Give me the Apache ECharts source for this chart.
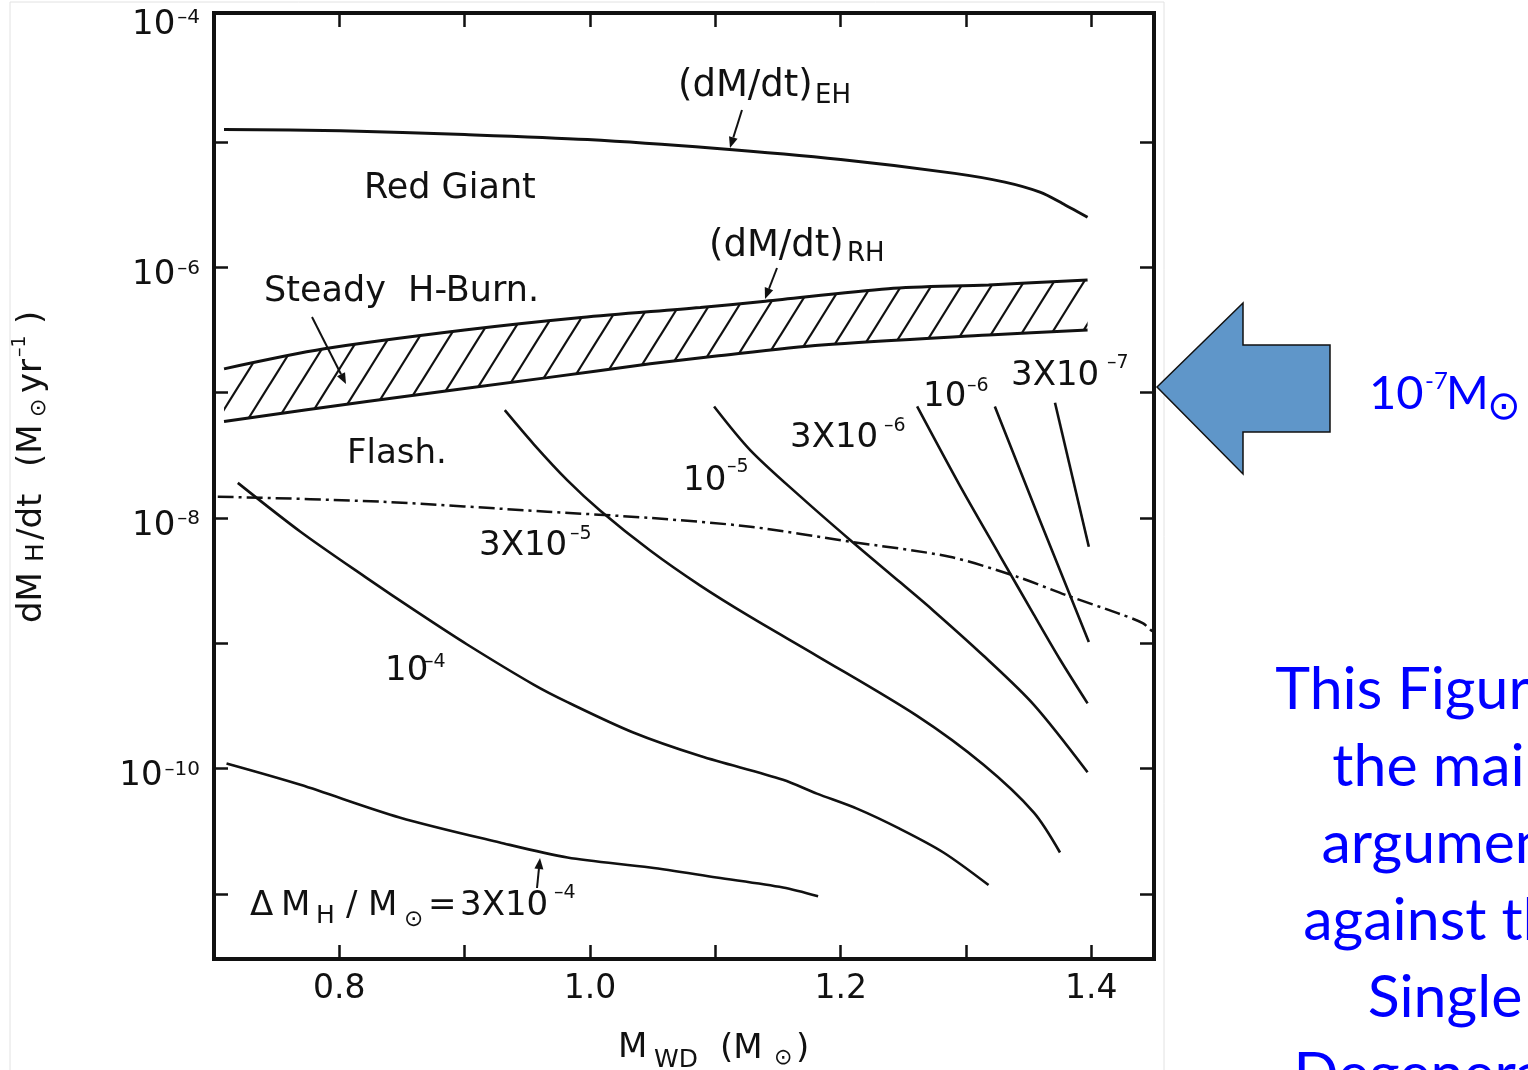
<!DOCTYPE html>
<html><head><meta charset="utf-8">
<script src="https://cdn.jsdelivr.net/npm/echarts@6/dist/echarts.min.js"></script>
<style>html,body{margin:0;padding:0;background:#fff}#c{width:1528px;height:1070px}</style>
</head><body><div id="c"></div>
<script>
// x: white-dwarf mass (Msun); y: log10 of accretion rate dM/dt (Msun/yr)
const xTicks = [0.8, 0.9, 1.0, 1.1, 1.2, 1.3, 1.4];
const xTickLabels = [0.8, 1.0, 1.2, 1.4];
const yTicks = [-11, -10, -9, -8, -7, -6, -5];
const yTickLabels = [-10, -8, -6, -4];

const ehX = [0.708, 0.801, 0.900, 0.998, 1.099, 1.200, 1.291, 1.331, 1.359, 1.377, 1.397];
const ehY = [-4.90, -4.91, -4.94, -4.98, -5.05, -5.14, -5.25, -5.32, -5.40, -5.49, -5.60];

const rhUpperX = [0.708, 0.788, 0.900, 0.993, 1.088, 1.140, 1.238, 1.318, 1.397];
const rhUpperY = [-6.81, -6.65, -6.50, -6.40, -6.32, -6.27, -6.17, -6.14, -6.10];
const rhLowerX = [0.708, 0.822, 0.966, 1.048, 1.099, 1.185, 1.318, 1.397];
const rhLowerY = [-7.23, -7.07, -6.88, -6.77, -6.71, -6.62, -6.54, -6.50];

const dashX = [0.703, 0.833, 0.966, 1.048, 1.128, 1.208, 1.287, 1.341, 1.381, 1.421, 1.441, 1.450];
const dashY = [-7.83, -7.87, -7.95, -8.00, -8.07, -8.19, -8.31, -8.47, -8.62, -8.76, -8.84, -8.92];

const f3e4X = [0.710, 0.769, 0.848, 0.928, 0.982, 1.048, 1.101, 1.154, 1.182];
const f3e4Y = [-9.96, -10.13, -10.39, -10.59, -10.71, -10.79, -10.87, -10.95, -11.02];

const f1e4X = [0.719, 0.769, 0.822, 0.862, 0.902, 0.955, 0.982, 1.034, 1.088, 1.154, 1.181, 1.213, 1.247, 1.282, 1.318];
const f1e4Y = [-7.72, -8.11, -8.48, -8.75, -9.01, -9.33, -9.47, -9.71, -9.90, -10.09, -10.20, -10.32, -10.48, -10.67, -10.93];

const f3e5X = [0.932, 0.955, 0.982, 1.008, 1.048, 1.088, 1.128, 1.181, 1.261, 1.314, 1.354, 1.375];
const f3e5Y = [-7.14, -7.41, -7.70, -7.94, -8.26, -8.54, -8.79, -9.10, -9.58, -9.97, -10.35, -10.67];

const f1e5X = [1.099, 1.128, 1.168, 1.208, 1.247, 1.274, 1.314, 1.354, 1.397];
const f1e5Y = [-7.11, -7.46, -7.83, -8.18, -8.51, -8.74, -9.10, -9.49, -10.03];

const f3e6X = [1.261, 1.295, 1.327, 1.354, 1.375, 1.397];
const f3e6Y = [-7.11, -7.74, -8.30, -8.77, -9.13, -9.48];

const f1e6X = [1.323, 1.359, 1.398];
const f1e6Y = [-7.11, -8.02, -8.99];

const f3e7X = [1.371, 1.398];
const f3e7Y = [-7.08, -8.23];

const INK = '#111';
const FONT = 'DejaVu Sans';

// hatch pattern
const hc = document.createElement('canvas');
hc.width = 30; hc.height = 48;
const hg = hc.getContext('2d');
hg.strokeStyle = INK; hg.lineWidth = 2.2;
for (const o of [-30, 0, 30]) {
  hg.beginPath(); hg.moveTo(o - 3, 52.8); hg.lineTo(o + 33, -4.8); hg.stroke();
}

function curve(xs, ys, extra) {
  return Object.assign({
    type: 'line', data: xs.map((x, i) => [x, ys[i]]), showSymbol: false, symbol: 'none',
    smooth: 0.3, silent: true, animation: false, z: 3,
    lineStyle: { color: INK, width: 2.6 }
  }, extra || {});
}

function T(x, y, text, size, opts) {
  return {
    type: 'text', x: x, y: y, silent: true, z: 20,
    style: Object.assign({
      text: text, fontSize: size, fontFamily: FONT, fill: INK,
      align: 'left', verticalAlign: 'middle', textAlign: 'left', textVerticalAlign: 'middle'
    }, opts || {})
  };
}
function TR(x, y, text, size, opts) { // rotated (reads bottom-to-top)
  const t = T(x, y, text, size, opts);
  t.rotation = Math.PI / 2;
  return t;
}
function arrow(x1, y1, x2, y2) {
  const head = 11, w = 4.5;
  const dx = x2 - x1, dy = y2 - y1, L = Math.hypot(dx, dy), ux = dx / L, uy = dy / L;
  const bx = x2 - ux * head, by = y2 - uy * head;
  return [
    { type: 'line', silent: true, z: 20, shape: { x1: x1, y1: y1, x2: bx, y2: by }, style: { stroke: INK, lineWidth: 2 } },
    { type: 'polygon', silent: true, z: 20, shape: { points: [[x2, y2], [bx - uy * w, by + ux * w], [bx + uy * w, by - ux * w]] }, style: { fill: INK } }
  ];
}

const BLUE = '#0000ff';
const elements = [
  { type: 'rect', silent: true, z: 0, shape: { x: 10, y: 2, width: 1154, height: 1100 }, style: { fill: 'none', stroke: '#e2e2e2', lineWidth: 1 } },
  // region labels
  T(364, 189, 'Red Giant', 35),
  T(264, 292, 'Steady  H-Burn.', 35),
  T(347, 454, 'Flash.', 34),
  T(678, 86, '(dM/dt)', 37), T(815, 96, 'EH', 26),
  T(709, 246, '(dM/dt)', 37), T(847, 254, 'RH', 26),
  // curve labels
  T(479, 546, '3X10', 34), T(570, 534, '\u20135', 19),
  T(385, 671, '10', 34), T(424, 662, '\u20134', 19),
  T(683, 481, '10', 34), T(727, 467, '\u20135', 19),
  T(790, 438, '3X10', 34), T(884, 426, '\u20136', 19),
  T(923, 397, '10', 34), T(967, 386, '\u20136', 19),
  T(1011, 376, '3X10', 34), T(1107, 363, '\u20137', 19),
  T(250, 906, '\u0394', 34), T(281, 906, 'M', 34), T(316, 916, 'H', 25),
  T(346, 906, '/', 34), T(368, 906, 'M', 34), T(404, 920, '\u2299', 23),
  T(428, 906, '=', 34), T(460, 906, '3X10', 34), T(554, 893, '\u20134', 19),
  // axis titles
  T(618, 1048, 'M', 34), T(654, 1060, 'WD', 25), T(720, 1049, '(M', 34), T(774, 1058, '\u2299', 22), T(796, 1049, ')', 34),
  TR(32, 623, 'dM', 34), TR(36, 562, 'H', 25), TR(32, 540, '/dt', 34), TR(32, 467, '(M', 34),
  TR(39, 417, '\u2299', 22), TR(32, 393, 'yr', 34), TR(20, 357, '\u20131', 19), TR(32, 324, ')', 34),
  // blue annotation
  { type: 'polygon', silent: true, z: 20, shape: { points: [[1157, 387], [1243, 303], [1243, 345], [1330, 345], [1330, 432], [1243, 432], [1243, 474]] },
    style: { fill: '#5f96c9', stroke: '#111', lineWidth: 1.5 } },
  T(1369, 394, '10', 47, { fontFamily: 'Lato', fill: BLUE }),
  T(1425, 381, '-7', 24, { fontFamily: 'Lato', fill: BLUE }),
  T(1446, 394, 'M', 46, { fontFamily: 'Lato', fill: BLUE }),
  T(1487, 409, '\u2299', 40, { fill: BLUE }),
  T(1445, 651, 'This Figure is\nthe main\nargument\nagainst the\nSingle\nDegenerate', 59,
    { fontFamily: 'Lato', fill: BLUE, align: 'center', textAlign: 'center', verticalAlign: 'top', textVerticalAlign: 'top', lineHeight: 77 })
];
elements.push(...arrow(742, 110, 730, 148));
elements.push(...arrow(777, 268, 765, 299));
elements.push(...arrow(312, 317, 346, 384));
elements.push(...arrow(537, 888, 540, 858));

const tickStyle = { inside: true, length: 14, lineStyle: { color: INK, width: 2.5 } };
const yRich = {
  m: { fontSize: 34, fontFamily: FONT, color: INK, lineHeight: 34 },
  s: { fontSize: 20, fontFamily: FONT, color: INK, lineHeight: 10, verticalAlign: 'top', padding: [0, 0, 0, 2] }
};

const option = {
  animation: false,
  backgroundColor: '#fff',
  grid: { left: 214, right: 374, top: 13, bottom: 111, show: true, borderColor: INK, borderWidth: 4, backgroundColor: 'transparent' },
  xAxis: [
    { type: 'value', position: 'bottom', min: 0.7, max: 1.450, splitLine: { show: false }, axisLine: { show: false },
      axisTick: Object.assign({ customValues: xTicks }, tickStyle),
      axisLabel: { customValues: xTickLabels, formatter: v => v.toFixed(1), fontSize: 33, fontFamily: FONT, color: INK, margin: 14 } },
    { type: 'value', position: 'top', min: 0.7, max: 1.450, splitLine: { show: false }, axisLine: { show: false },
      axisTick: Object.assign({ customValues: xTicks }, tickStyle), axisLabel: { show: false } }
  ],
  yAxis: [
    { type: 'value', position: 'left', min: -11.52, max: -3.97, splitLine: { show: false }, axisLine: { show: false },
      axisTick: Object.assign({ customValues: yTicks }, tickStyle),
      axisLabel: { customValues: yTickLabels, formatter: v => '{m|10}{s|\u2013' + Math.abs(v) + '}', margin: 14, padding: [16, 0, 0, 0], rich: yRich } },
    { type: 'value', position: 'right', min: -11.52, max: -3.97, splitLine: { show: false }, axisLine: { show: false },
      axisTick: Object.assign({ customValues: yTicks }, tickStyle), axisLabel: { show: false } }
  ],
  series: [
    {
      type: 'custom', silent: true, z: 2, data: [[1.0, -6.6]],
      renderItem: function (params, api) {
        const pts = [];
        rhUpperX.forEach((x, i) => pts.push(api.coord([x, rhUpperY[i]])));
        for (let i = rhLowerX.length - 1; i >= 0; i--) pts.push(api.coord([rhLowerX[i], rhLowerY[i]]));
        return { type: 'polygon', shape: { points: pts }, style: { fill: { image: hc, repeat: 'repeat' }, stroke: null } };
      }
    },
    curve(ehX, ehY, { lineStyle: { color: INK, width: 3 } }),
    curve(rhUpperX, rhUpperY, { lineStyle: { color: INK, width: 3 } }),
    curve(rhLowerX, rhLowerY, { lineStyle: { color: INK, width: 3 } }),
    curve(dashX, dashY, { lineStyle: { color: INK, width: 2.5, type: [16, 5, 3, 5] } }),
    curve(f3e4X, f3e4Y), curve(f1e4X, f1e4Y), curve(f3e5X, f3e5Y), curve(f1e5X, f1e5Y),
    curve(f3e6X, f3e6Y), curve(f1e6X, f1e6Y), curve(f3e7X, f3e7Y)
  ],
  graphic: { elements: elements }
};

const chart = echarts.init(document.getElementById('c'), null, { renderer: 'canvas' });
chart.setOption(option);
</script></body></html>
